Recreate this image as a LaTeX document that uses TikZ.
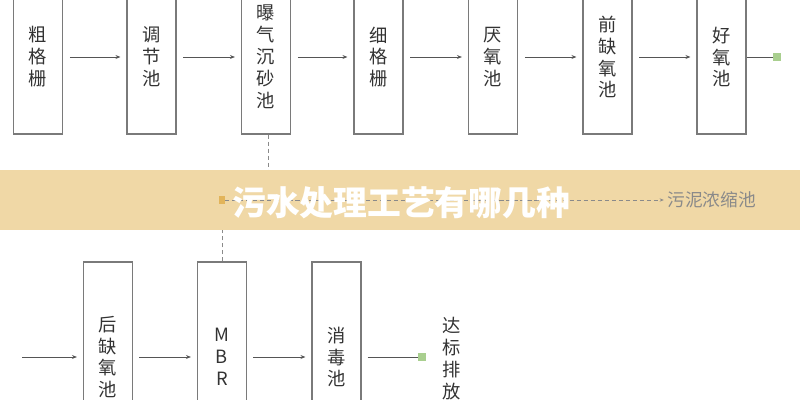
\documentclass[tikz,border=0pt]{standalone}
\usepackage{fontspec}
\setmainfont{Noto Sans CJK SC}
\usetikzlibrary{arrows.meta}
\definecolor{boxline}{HTML}{7A7A7A}
\definecolor{arrowline}{HTML}{555555}
\definecolor{txt}{HTML}{333333}
\definecolor{banner}{HTML}{F0D8A6}
\definecolor{termgreen}{HTML}{A9CF8F}
\definecolor{termorange}{HTML}{E2B45A}
\definecolor{sludge}{HTML}{8A8A8A}
\tikzset{
  topbox/.style={draw=boxline, line width=0.8pt, fill=white, minimum width=1.225cm, minimum height=3.85cm, inner sep=0pt, text=txt, font=\fontsize{13pt}{15.6pt}\selectfont, align=center},
  botbox/.style={draw=boxline, line width=0.8pt, fill=white, minimum width=1.225cm, minimum height=4.75cm, inner sep=0pt, text=txt, font=\fontsize{13pt}{15.6pt}\selectfont, align=center},
  flow/.style={draw=arrowline, line width=0.7pt, -{Stealth[length=3.5pt,width=2.8pt]}},
  endline/.style={draw=arrowline, line width=0.7pt},
  term/.style={fill=termgreen, minimum size=0.19cm, inner sep=0pt},
  sludgeline/.style={draw=sludge, line width=0.6pt, dashed, dash pattern=on 3pt off 2pt},
}
\begin{document}
\begin{tikzpicture}[x=0.025cm,y=-0.025cm]
\useasboundingbox (0,0) rectangle (800,400);
% top row
\node[topbox] (b1) at (38,57) {粗\\格\\栅};
\node[topbox] (b2) at (151.5,57) {调\\节\\池};
\node[topbox] (b3) at (266,57) {曝\\气\\沉\\砂\\池};
\node[topbox] (b4) at (378.5,57) {细\\格\\栅};
\node[topbox] (b5) at (493,57) {厌\\氧\\池};
\node[topbox] (b6) at (607.5,57) {前\\缺\\氧\\池};
\node[topbox] (b7) at (721.5,57) {好\\氧\\池};
\node[term] (t1) at (777,57) {};
\draw[flow] ([xshift=0.17cm]b1.east) -- ([xshift=-0.15cm]b2.west);
\draw[flow] ([xshift=0.17cm]b2.east) -- ([xshift=-0.15cm]b3.west);
\draw[flow] ([xshift=0.17cm]b3.east) -- ([xshift=-0.15cm]b4.west);
\draw[flow] ([xshift=0.17cm]b4.east) -- ([xshift=-0.15cm]b5.west);
\draw[flow] ([xshift=0.17cm]b5.east) -- ([xshift=-0.15cm]b6.west);
\draw[flow] ([xshift=0.17cm]b6.east) -- ([xshift=-0.15cm]b7.west);
\draw[endline] (b7.east) -- (t1.west);
% bottom row
\coordinate (in2) at (22,357);
\node[botbox] (c1) at (108,357) {后\\缺\\氧\\池};
\node[botbox] (c2) at (222,357) {M\\B\\R};
\node[botbox] (c3) at (336.5,357) {消\\毒\\池};
\node[term] (t2) at (422,357) {};
\node[text=txt, font=\fontsize{13pt}{15.6pt}\selectfont, align=center, inner sep=0pt] (out) at (452,358.5) {达\\标\\排\\放};
\draw[flow] (in2) -- ([xshift=-0.15cm]c1.west);
\draw[flow] ([xshift=0.15cm]c1.east) -- ([xshift=-0.15cm]c2.west);
\draw[flow] ([xshift=0.15cm]c2.east) -- ([xshift=-0.15cm]c3.west);
\draw[endline] ([xshift=0.15cm]c3.east) -- (t2.west);
% sludge lines
\coordinate (j1) at (268,200);
\coordinate (j2) at (222,200);
\draw[sludgeline] (b3.south -| j1) -- (j1);
\draw[sludgeline] (c2.north) -- (j2);
% banner
\fill[banner] (0,170) rectangle (800,230);
\node[fill=termorange, minimum width=0.14cm, minimum height=0.22cm, inner sep=0pt] (sq) at (222,200) {};
\node[text=sludge, font=\fontsize{12.6pt}{14pt}\selectfont, anchor=west, inner sep=0pt] (sn) at (667,200) {污泥浓缩池};
\draw[sludgeline, -{Stealth[length=3pt,width=2.4pt]}] (sq.east) -- ([xshift=-0.08cm]sn.west);
\node[text=white, font=\fontsize{24pt}{28pt}\selectfont\bfseries, inner sep=0pt] (title) at (401,203) {污水处理工艺有哪几种};
\end{tikzpicture}
\end{document}
